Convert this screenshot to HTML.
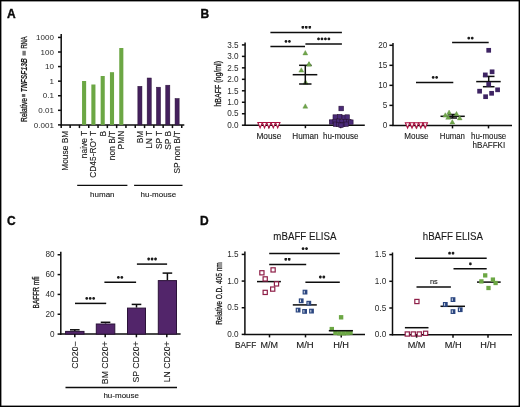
<!DOCTYPE html>
<html><head><meta charset="utf-8"><style>
html,body{margin:0;padding:0;background:#fff;}
svg{display:block;will-change:transform;}
text{font-family:"Liberation Sans",sans-serif;}
</style></head><body>
<svg width="520" height="407" viewBox="0 0 520 407">
<rect width="520" height="407" fill="#fff"/>
<rect x="0.7" y="0.7" width="518.6" height="405.6" fill="none" stroke="#000" stroke-width="1.4"/>
<text x="6.9" y="17.7" font-size="12" font-weight="bold" fill="#0a0a0a" stroke="#0a0a0a" stroke-width="0.35">A</text>
<text x="200.4" y="17.7" font-size="12" font-weight="bold" fill="#0a0a0a" stroke="#0a0a0a" stroke-width="0.35">B</text>
<text x="7.0" y="224.8" font-size="12" font-weight="bold" fill="#0a0a0a" stroke="#0a0a0a" stroke-width="0.35">C</text>
<text x="200.0" y="224.8" font-size="12" font-weight="bold" fill="#0a0a0a" stroke="#0a0a0a" stroke-width="0.35">D</text>
<line x1="61.20" y1="34.00" x2="61.20" y2="125.50" stroke="#0d0d0d" stroke-width="1.5"/>
<line x1="60.60" y1="124.90" x2="184.30" y2="124.90" stroke="#0d0d0d" stroke-width="1.5"/>
<line x1="58.00" y1="124.90" x2="61.20" y2="124.90" stroke="#0d0d0d" stroke-width="1.5"/>
<text x="53.90" y="127.65" font-size="8.0" text-anchor="end" font-weight="normal" fill="#2a2a2a" stroke="#2a2a2a" stroke-width="0"  style="">0.001</text>
<line x1="58.00" y1="110.32" x2="61.20" y2="110.32" stroke="#0d0d0d" stroke-width="1.5"/>
<text x="53.90" y="113.07" font-size="8.0" text-anchor="end" font-weight="normal" fill="#2a2a2a" stroke="#2a2a2a" stroke-width="0"  style="">0.01</text>
<line x1="58.00" y1="95.74" x2="61.20" y2="95.74" stroke="#0d0d0d" stroke-width="1.5"/>
<text x="53.90" y="98.49" font-size="8.0" text-anchor="end" font-weight="normal" fill="#2a2a2a" stroke="#2a2a2a" stroke-width="0"  style="">0.1</text>
<line x1="58.00" y1="81.16" x2="61.20" y2="81.16" stroke="#0d0d0d" stroke-width="1.5"/>
<text x="53.90" y="83.91" font-size="8.0" text-anchor="end" font-weight="normal" fill="#2a2a2a" stroke="#2a2a2a" stroke-width="0"  style="">1</text>
<line x1="58.00" y1="66.58" x2="61.20" y2="66.58" stroke="#0d0d0d" stroke-width="1.5"/>
<text x="53.90" y="69.33" font-size="8.0" text-anchor="end" font-weight="normal" fill="#2a2a2a" stroke="#2a2a2a" stroke-width="0"  style="">10</text>
<line x1="58.00" y1="52.00" x2="61.20" y2="52.00" stroke="#0d0d0d" stroke-width="1.5"/>
<text x="53.90" y="54.75" font-size="8.0" text-anchor="end" font-weight="normal" fill="#2a2a2a" stroke="#2a2a2a" stroke-width="0"  style="">100</text>
<line x1="58.00" y1="37.42" x2="61.20" y2="37.42" stroke="#0d0d0d" stroke-width="1.5"/>
<text x="53.90" y="40.17" font-size="8.0" text-anchor="end" font-weight="normal" fill="#2a2a2a" stroke="#2a2a2a" stroke-width="0"  style="">1000</text>
<line x1="61.20" y1="124.90" x2="61.20" y2="128.10" stroke="#0d0d0d" stroke-width="1.5"/>
<line x1="70.15" y1="124.90" x2="70.15" y2="128.10" stroke="#0d0d0d" stroke-width="1.5"/>
<line x1="79.45" y1="124.90" x2="79.45" y2="128.10" stroke="#0d0d0d" stroke-width="1.5"/>
<line x1="88.75" y1="124.90" x2="88.75" y2="128.10" stroke="#0d0d0d" stroke-width="1.5"/>
<line x1="98.05" y1="124.90" x2="98.05" y2="128.10" stroke="#0d0d0d" stroke-width="1.5"/>
<line x1="107.35" y1="124.90" x2="107.35" y2="128.10" stroke="#0d0d0d" stroke-width="1.5"/>
<line x1="116.65" y1="124.90" x2="116.65" y2="128.10" stroke="#0d0d0d" stroke-width="1.5"/>
<line x1="125.95" y1="124.90" x2="125.95" y2="128.10" stroke="#0d0d0d" stroke-width="1.5"/>
<line x1="135.25" y1="124.90" x2="135.25" y2="128.10" stroke="#0d0d0d" stroke-width="1.5"/>
<line x1="144.55" y1="124.90" x2="144.55" y2="128.10" stroke="#0d0d0d" stroke-width="1.5"/>
<line x1="153.85" y1="124.90" x2="153.85" y2="128.10" stroke="#0d0d0d" stroke-width="1.5"/>
<line x1="163.15" y1="124.90" x2="163.15" y2="128.10" stroke="#0d0d0d" stroke-width="1.5"/>
<line x1="172.45" y1="124.90" x2="172.45" y2="128.10" stroke="#0d0d0d" stroke-width="1.5"/>
<line x1="181.75" y1="124.90" x2="181.75" y2="128.10" stroke="#0d0d0d" stroke-width="1.5"/>
<rect x="82.05" y="81.00" width="4.1" height="43.90" fill="#6ca744"/>
<rect x="91.35" y="84.50" width="4.1" height="40.40" fill="#6ca744"/>
<rect x="100.65" y="76.00" width="4.1" height="48.90" fill="#6ca744"/>
<rect x="109.95" y="72.20" width="4.1" height="52.70" fill="#6ca744"/>
<rect x="119.25" y="48.00" width="4.1" height="76.90" fill="#6ca744"/>
<rect x="137.85" y="86.30" width="4.1" height="38.60" fill="#44205d" stroke="#2a1238" stroke-width="0.5"/>
<rect x="147.15" y="78.00" width="4.1" height="46.90" fill="#44205d" stroke="#2a1238" stroke-width="0.5"/>
<rect x="156.45" y="87.20" width="4.1" height="37.70" fill="#44205d" stroke="#2a1238" stroke-width="0.5"/>
<rect x="165.75" y="85.20" width="4.1" height="39.70" fill="#44205d" stroke="#2a1238" stroke-width="0.5"/>
<rect x="175.05" y="98.50" width="4.1" height="26.40" fill="#44205d" stroke="#2a1238" stroke-width="0.5"/>
<text transform="translate(67.72,130.80) rotate(-90) scale(1.0,1)" font-size="8.4" text-anchor="end" fill="#1a1a1a" stroke="#1a1a1a" stroke-width="0.12">Mouse BM</text>
<text transform="translate(87.12,130.80) rotate(-90) scale(1.0,1)" font-size="8.4" text-anchor="end" fill="#1a1a1a" stroke="#1a1a1a" stroke-width="0.12">naive T</text>
<text transform="translate(96.42,130.80) rotate(-90) scale(1.0,1)" font-size="8.4" text-anchor="end" fill="#1a1a1a" stroke="#1a1a1a" stroke-width="0.12">CD45-RO<tspan font-size="5" dy="-3">+</tspan><tspan dy="3"> T</tspan></text>
<text transform="translate(105.72,130.80) rotate(-90) scale(1.0,1)" font-size="8.4" text-anchor="end" fill="#1a1a1a" stroke="#1a1a1a" stroke-width="0.12">B</text>
<text transform="translate(115.02,130.80) rotate(-90) scale(1.0,1)" font-size="8.4" text-anchor="end" fill="#1a1a1a" stroke="#1a1a1a" stroke-width="0.12">non B/T</text>
<text transform="translate(124.32,130.80) rotate(-90) scale(1.0,1)" font-size="8.4" text-anchor="end" fill="#1a1a1a" stroke="#1a1a1a" stroke-width="0.12">PMN</text>
<text transform="translate(142.92,130.80) rotate(-90) scale(1.0,1)" font-size="8.4" text-anchor="end" fill="#1a1a1a" stroke="#1a1a1a" stroke-width="0.12">BM</text>
<text transform="translate(152.22,130.80) rotate(-90) scale(1.0,1)" font-size="8.4" text-anchor="end" fill="#1a1a1a" stroke="#1a1a1a" stroke-width="0.12">LN T</text>
<text transform="translate(161.52,130.80) rotate(-90) scale(1.0,1)" font-size="8.4" text-anchor="end" fill="#1a1a1a" stroke="#1a1a1a" stroke-width="0.12">SP T</text>
<text transform="translate(170.82,130.80) rotate(-90) scale(1.0,1)" font-size="8.4" text-anchor="end" fill="#1a1a1a" stroke="#1a1a1a" stroke-width="0.12">SP B</text>
<text transform="translate(180.12,130.80) rotate(-90) scale(1.0,1)" font-size="8.4" text-anchor="end" fill="#1a1a1a" stroke="#1a1a1a" stroke-width="0.12">SP non B/T</text>
<line x1="77.20" y1="185.40" x2="127.40" y2="185.40" stroke="#0d0d0d" stroke-width="1.4"/>
<line x1="134.10" y1="185.40" x2="182.50" y2="185.40" stroke="#0d0d0d" stroke-width="1.4"/>
<text x="102.30" y="196.80" font-size="8.0" text-anchor="middle" font-weight="normal" fill="#1a1a1a" stroke="#1a1a1a" stroke-width="0.12"  style="">human</text>
<text x="158.30" y="196.80" font-size="8.0" text-anchor="middle" font-weight="normal" fill="#1a1a1a" stroke="#1a1a1a" stroke-width="0.12"  style="">hu-mouse</text>
<text transform="translate(26.92,121.90) rotate(-90) scale(0.79,1)" font-size="8.4" text-anchor="start" fill="#1a1a1a" stroke="#1a1a1a" stroke-width="0.3" >Relative</text>
<rect x="21.9" y="94.0" width="3.4" height="3.0" fill="#666"/>
<text transform="translate(26.92,92.20) rotate(-90) scale(0.8,1)" font-size="8.4" text-anchor="start" fill="#1a1a1a" stroke="#1a1a1a" stroke-width="0.1" font-style="italic" font-weight="bold">TNFSF13B</text>
<rect x="22.4" y="50.8" width="3.4" height="4.7" fill="#777"/>
<text transform="translate(26.92,48.60) rotate(-90) scale(0.69,1)" font-size="8.4" text-anchor="start" fill="#1a1a1a" stroke="#1a1a1a" stroke-width="0.3" >RNA</text>
<line x1="245.10" y1="42.50" x2="245.10" y2="125.80" stroke="#0d0d0d" stroke-width="1.5"/>
<line x1="244.50" y1="125.20" x2="364.80" y2="125.20" stroke="#0d0d0d" stroke-width="1.5"/>
<line x1="241.90" y1="125.20" x2="245.10" y2="125.20" stroke="#0d0d0d" stroke-width="1.5"/>
<text x="238.60" y="127.95" font-size="8.2" text-anchor="end" font-weight="normal" fill="#2a2a2a" stroke="#2a2a2a" stroke-width="0"  style="">0.0</text>
<line x1="241.90" y1="113.73" x2="245.10" y2="113.73" stroke="#0d0d0d" stroke-width="1.5"/>
<text x="238.60" y="116.48" font-size="8.2" text-anchor="end" font-weight="normal" fill="#2a2a2a" stroke="#2a2a2a" stroke-width="0"  style="">0.5</text>
<line x1="241.90" y1="102.26" x2="245.10" y2="102.26" stroke="#0d0d0d" stroke-width="1.5"/>
<text x="238.60" y="105.01" font-size="8.2" text-anchor="end" font-weight="normal" fill="#2a2a2a" stroke="#2a2a2a" stroke-width="0"  style="">1.0</text>
<line x1="241.90" y1="90.79" x2="245.10" y2="90.79" stroke="#0d0d0d" stroke-width="1.5"/>
<text x="238.60" y="93.54" font-size="8.2" text-anchor="end" font-weight="normal" fill="#2a2a2a" stroke="#2a2a2a" stroke-width="0"  style="">1.5</text>
<line x1="241.90" y1="79.32" x2="245.10" y2="79.32" stroke="#0d0d0d" stroke-width="1.5"/>
<text x="238.60" y="82.07" font-size="8.2" text-anchor="end" font-weight="normal" fill="#2a2a2a" stroke="#2a2a2a" stroke-width="0"  style="">2.0</text>
<line x1="241.90" y1="67.85" x2="245.10" y2="67.85" stroke="#0d0d0d" stroke-width="1.5"/>
<text x="238.60" y="70.60" font-size="8.2" text-anchor="end" font-weight="normal" fill="#2a2a2a" stroke="#2a2a2a" stroke-width="0"  style="">2.5</text>
<line x1="241.90" y1="56.38" x2="245.10" y2="56.38" stroke="#0d0d0d" stroke-width="1.5"/>
<text x="238.60" y="59.13" font-size="8.2" text-anchor="end" font-weight="normal" fill="#2a2a2a" stroke="#2a2a2a" stroke-width="0"  style="">3.0</text>
<line x1="241.90" y1="44.91" x2="245.10" y2="44.91" stroke="#0d0d0d" stroke-width="1.5"/>
<text x="238.60" y="47.66" font-size="8.2" text-anchor="end" font-weight="normal" fill="#2a2a2a" stroke="#2a2a2a" stroke-width="0"  style="">3.5</text>
<line x1="268.80" y1="125.20" x2="268.80" y2="128.20" stroke="#0d0d0d" stroke-width="1.5"/>
<line x1="305.40" y1="125.20" x2="305.40" y2="128.20" stroke="#0d0d0d" stroke-width="1.5"/>
<line x1="340.70" y1="125.20" x2="340.70" y2="128.20" stroke="#0d0d0d" stroke-width="1.5"/>
<text transform="translate(220.84,83.80) rotate(-90) scale(0.78,1)" font-size="9" text-anchor="middle" fill="#1a1a1a" stroke="#1a1a1a" stroke-width="0.3">hBAFF (ng/ml)</text>
<text x="268.90" y="139.00" font-size="8.8" text-anchor="middle" font-weight="normal" fill="#1a1a1a" stroke="#1a1a1a" stroke-width="0.12"  textLength="24.9" lengthAdjust="spacingAndGlyphs" style="">Mouse</text>
<text x="305.40" y="139.00" font-size="8.8" text-anchor="middle" font-weight="normal" fill="#1a1a1a" stroke="#1a1a1a" stroke-width="0.12"  textLength="26.3" lengthAdjust="spacingAndGlyphs" style="">Human</text>
<text x="340.70" y="139.00" font-size="8.8" text-anchor="middle" font-weight="normal" fill="#1a1a1a" stroke="#1a1a1a" stroke-width="0.12"  textLength="35.5" lengthAdjust="spacingAndGlyphs" style="">hu-mouse</text>
<line x1="270.40" y1="32.50" x2="341.90" y2="32.50" stroke="#0d0d0d" stroke-width="1.5"/>
<path d="M302.85,25.90L302.85,28.70M301.64,26.60L304.06,28.00M301.64,28.00L304.06,26.60" stroke="#1a1a1a" stroke-width="1.15" fill="none"/>
<path d="M306.30,25.90L306.30,28.70M305.09,26.60L307.51,28.00M305.09,28.00L307.51,26.60" stroke="#1a1a1a" stroke-width="1.15" fill="none"/>
<path d="M309.75,25.90L309.75,28.70M308.54,26.60L310.96,28.00M308.54,28.00L310.96,26.60" stroke="#1a1a1a" stroke-width="1.15" fill="none"/>
<line x1="270.40" y1="46.50" x2="305.00" y2="46.50" stroke="#0d0d0d" stroke-width="1.5"/>
<path d="M285.97,40.00L285.97,42.80M284.76,40.70L287.19,42.10M284.76,42.10L287.19,40.70" stroke="#1a1a1a" stroke-width="1.15" fill="none"/>
<path d="M289.42,40.00L289.42,42.80M288.21,40.70L290.64,42.10M288.21,42.10L290.64,40.70" stroke="#1a1a1a" stroke-width="1.15" fill="none"/>
<line x1="305.40" y1="44.00" x2="341.90" y2="44.00" stroke="#0d0d0d" stroke-width="1.5"/>
<path d="M318.52,37.50L318.52,40.30M317.31,38.20L319.74,39.60M317.31,39.60L319.74,38.20" stroke="#1a1a1a" stroke-width="1.15" fill="none"/>
<path d="M321.97,37.50L321.97,40.30M320.76,38.20L323.19,39.60M320.76,39.60L323.19,38.20" stroke="#1a1a1a" stroke-width="1.15" fill="none"/>
<path d="M325.42,37.50L325.42,40.30M324.21,38.20L326.64,39.60M324.21,39.60L326.64,38.20" stroke="#1a1a1a" stroke-width="1.15" fill="none"/>
<path d="M328.88,37.50L328.88,40.30M327.66,38.20L330.09,39.60M327.66,39.60L330.09,38.20" stroke="#1a1a1a" stroke-width="1.15" fill="none"/>
<path d="M257.85,122.55 L262.35,122.55 L260.10,127.85 Z" fill="white" stroke="#ac1040" stroke-width="1.1" stroke-linejoin="miter"/>
<path d="M262.25,122.55 L266.75,122.55 L264.50,127.85 Z" fill="white" stroke="#ac1040" stroke-width="1.1" stroke-linejoin="miter"/>
<path d="M266.65,122.55 L271.15,122.55 L268.90,127.85 Z" fill="white" stroke="#ac1040" stroke-width="1.1" stroke-linejoin="miter"/>
<path d="M271.05,122.55 L275.55,122.55 L273.30,127.85 Z" fill="white" stroke="#ac1040" stroke-width="1.1" stroke-linejoin="miter"/>
<path d="M275.45,122.55 L279.95,122.55 L277.70,127.85 Z" fill="white" stroke="#ac1040" stroke-width="1.1" stroke-linejoin="miter"/>
<path d="M302.85,54.90 L307.75,54.90 L305.30,50.50 Z" fill="#70a64a" stroke="#5f8f45" stroke-width="0.4"/>
<path d="M306.55,66.10 L311.45,66.10 L309.00,61.70 Z" fill="#70a64a" stroke="#5f8f45" stroke-width="0.4"/>
<path d="M298.85,72.10 L303.75,72.10 L301.30,67.70 Z" fill="#70a64a" stroke="#5f8f45" stroke-width="0.4"/>
<path d="M303.15,84.20 L308.05,84.20 L305.60,79.80 Z" fill="#70a64a" stroke="#5f8f45" stroke-width="0.4"/>
<path d="M302.85,108.20 L307.75,108.20 L305.30,103.80 Z" fill="#70a64a" stroke="#5f8f45" stroke-width="0.4"/>
<line x1="292.70" y1="74.70" x2="317.30" y2="74.70" stroke="#0d0d0d" stroke-width="1.5"/>
<line x1="305.30" y1="65.30" x2="305.30" y2="84.00" stroke="#0d0d0d" stroke-width="1.5"/>
<line x1="299.10" y1="65.30" x2="311.50" y2="65.30" stroke="#0d0d0d" stroke-width="1.5"/>
<line x1="299.10" y1="84.00" x2="311.50" y2="84.00" stroke="#0d0d0d" stroke-width="1.5"/>
<path d="M306.55,66.10 L311.45,66.10 L309.00,61.70 Z" fill="#70a64a" stroke="#5f8f45" stroke-width="0.4"/>
<rect x="338.90" y="106.20" width="4.6" height="4.6" fill="#4a2a78" stroke="#2a1238" stroke-width="0.6"/>
<line x1="329.50" y1="120.70" x2="352.50" y2="120.70" stroke="#0d0d0d" stroke-width="1.5"/>
<rect x="333.00" y="114.80" width="4.4" height="4.4" fill="#4a2a78" stroke="#2a1238" stroke-width="0.6"/>
<rect x="337.60" y="114.40" width="4.4" height="4.4" fill="#4a2a78" stroke="#2a1238" stroke-width="0.6"/>
<rect x="342.00" y="115.20" width="4.4" height="4.4" fill="#4a2a78" stroke="#2a1238" stroke-width="0.6"/>
<rect x="345.00" y="114.80" width="4.4" height="4.4" fill="#4a2a78" stroke="#2a1238" stroke-width="0.6"/>
<rect x="329.40" y="119.80" width="4.4" height="4.4" fill="#4a2a78" stroke="#2a1238" stroke-width="0.6"/>
<rect x="332.80" y="119.30" width="4.4" height="4.4" fill="#4a2a78" stroke="#2a1238" stroke-width="0.6"/>
<rect x="336.30" y="119.00" width="4.4" height="4.4" fill="#4a2a78" stroke="#2a1238" stroke-width="0.6"/>
<rect x="339.80" y="119.30" width="4.4" height="4.4" fill="#4a2a78" stroke="#2a1238" stroke-width="0.6"/>
<rect x="343.30" y="119.30" width="4.4" height="4.4" fill="#4a2a78" stroke="#2a1238" stroke-width="0.6"/>
<rect x="346.60" y="119.50" width="4.4" height="4.4" fill="#4a2a78" stroke="#2a1238" stroke-width="0.6"/>
<rect x="348.70" y="119.90" width="4.4" height="4.4" fill="#4a2a78" stroke="#2a1238" stroke-width="0.6"/>
<rect x="333.30" y="122.00" width="4.4" height="4.4" fill="#4a2a78" stroke="#2a1238" stroke-width="0.6"/>
<rect x="336.60" y="122.30" width="4.4" height="4.4" fill="#4a2a78" stroke="#2a1238" stroke-width="0.6"/>
<rect x="340.60" y="122.30" width="4.4" height="4.4" fill="#4a2a78" stroke="#2a1238" stroke-width="0.6"/>
<rect x="344.10" y="122.00" width="4.4" height="4.4" fill="#4a2a78" stroke="#2a1238" stroke-width="0.6"/>
<rect x="338.80" y="123.00" width="4.4" height="4.4" fill="#4a2a78" stroke="#2a1238" stroke-width="0.6"/>
<line x1="393.00" y1="42.90" x2="393.00" y2="126.00" stroke="#0d0d0d" stroke-width="1.5"/>
<line x1="392.40" y1="125.40" x2="512.00" y2="125.40" stroke="#0d0d0d" stroke-width="1.5"/>
<line x1="389.40" y1="125.40" x2="393.00" y2="125.40" stroke="#0d0d0d" stroke-width="1.5"/>
<text x="387.40" y="128.15" font-size="8.2" text-anchor="end" font-weight="normal" fill="#2a2a2a" stroke="#2a2a2a" stroke-width="0"  style="">0</text>
<line x1="389.40" y1="105.38" x2="393.00" y2="105.38" stroke="#0d0d0d" stroke-width="1.5"/>
<text x="387.40" y="108.12" font-size="8.2" text-anchor="end" font-weight="normal" fill="#2a2a2a" stroke="#2a2a2a" stroke-width="0"  style="">5</text>
<line x1="389.40" y1="85.35" x2="393.00" y2="85.35" stroke="#0d0d0d" stroke-width="1.5"/>
<text x="387.40" y="88.10" font-size="8.2" text-anchor="end" font-weight="normal" fill="#2a2a2a" stroke="#2a2a2a" stroke-width="0"  style="">10</text>
<line x1="389.40" y1="65.33" x2="393.00" y2="65.33" stroke="#0d0d0d" stroke-width="1.5"/>
<text x="387.40" y="68.08" font-size="8.2" text-anchor="end" font-weight="normal" fill="#2a2a2a" stroke="#2a2a2a" stroke-width="0"  style="">15</text>
<line x1="389.40" y1="45.30" x2="393.00" y2="45.30" stroke="#0d0d0d" stroke-width="1.5"/>
<text x="387.40" y="48.05" font-size="8.2" text-anchor="end" font-weight="normal" fill="#2a2a2a" stroke="#2a2a2a" stroke-width="0"  style="">20</text>
<line x1="416.50" y1="125.40" x2="416.50" y2="128.40" stroke="#0d0d0d" stroke-width="1.5"/>
<line x1="452.50" y1="125.40" x2="452.50" y2="128.40" stroke="#0d0d0d" stroke-width="1.5"/>
<line x1="488.50" y1="125.40" x2="488.50" y2="128.40" stroke="#0d0d0d" stroke-width="1.5"/>
<text x="416.40" y="139.00" font-size="8.8" text-anchor="middle" font-weight="normal" fill="#1a1a1a" stroke="#1a1a1a" stroke-width="0.12"  textLength="24.3" lengthAdjust="spacingAndGlyphs" style="">Mouse</text>
<text x="452.35" y="139.00" font-size="8.8" text-anchor="middle" font-weight="normal" fill="#1a1a1a" stroke="#1a1a1a" stroke-width="0.12"  textLength="25.2" lengthAdjust="spacingAndGlyphs" style="">Human</text>
<text x="488.65" y="139.00" font-size="8.8" text-anchor="middle" font-weight="normal" fill="#1a1a1a" stroke="#1a1a1a" stroke-width="0.12"  textLength="35.2" lengthAdjust="spacingAndGlyphs" style="">hu-mouse</text>
<text x="488.85" y="148.30" font-size="8.8" text-anchor="middle" font-weight="normal" fill="#1a1a1a" stroke="#1a1a1a" stroke-width="0.12"  textLength="32.6" lengthAdjust="spacingAndGlyphs" style="">hBAFFKI</text>
<line x1="416.00" y1="82.40" x2="453.30" y2="82.40" stroke="#0d0d0d" stroke-width="1.5"/>
<path d="M433.17,76.00L433.17,78.80M431.96,76.70L434.39,78.10M431.96,78.10L434.39,76.70" stroke="#1a1a1a" stroke-width="1.15" fill="none"/>
<path d="M436.62,76.00L436.62,78.80M435.41,76.70L437.84,78.10M435.41,78.10L437.84,76.70" stroke="#1a1a1a" stroke-width="1.15" fill="none"/>
<line x1="452.10" y1="42.40" x2="488.70" y2="42.40" stroke="#0d0d0d" stroke-width="1.5"/>
<path d="M468.77,36.70L468.77,39.50M467.56,37.40L469.99,38.80M467.56,38.80L469.99,37.40" stroke="#1a1a1a" stroke-width="1.15" fill="none"/>
<path d="M472.22,36.70L472.22,39.50M471.01,37.40L473.44,38.80M471.01,38.80L473.44,37.40" stroke="#1a1a1a" stroke-width="1.15" fill="none"/>
<path d="M405.35,122.75 L409.85,122.75 L407.60,128.05 Z" fill="white" stroke="#ac1040" stroke-width="1.1" stroke-linejoin="miter"/>
<path d="M409.75,122.75 L414.25,122.75 L412.00,128.05 Z" fill="white" stroke="#ac1040" stroke-width="1.1" stroke-linejoin="miter"/>
<path d="M414.15,122.75 L418.65,122.75 L416.40,128.05 Z" fill="white" stroke="#ac1040" stroke-width="1.1" stroke-linejoin="miter"/>
<path d="M418.55,122.75 L423.05,122.75 L420.80,128.05 Z" fill="white" stroke="#ac1040" stroke-width="1.1" stroke-linejoin="miter"/>
<path d="M422.95,122.75 L427.45,122.75 L425.20,128.05 Z" fill="white" stroke="#ac1040" stroke-width="1.1" stroke-linejoin="miter"/>
<line x1="440.50" y1="116.30" x2="464.80" y2="116.30" stroke="#0d0d0d" stroke-width="1.5"/>
<line x1="452.60" y1="114.50" x2="452.60" y2="118.00" stroke="#0d0d0d" stroke-width="1.5"/>
<line x1="448.10" y1="114.50" x2="457.10" y2="114.50" stroke="#0d0d0d" stroke-width="1.5"/>
<line x1="448.10" y1="118.00" x2="457.10" y2="118.00" stroke="#0d0d0d" stroke-width="1.5"/>
<path d="M446.65,114.40 L451.55,114.40 L449.10,110.00 Z" fill="#70a64a" stroke="#5f8f45" stroke-width="0.4"/>
<path d="M442.85,117.10 L447.75,117.10 L445.30,112.70 Z" fill="#70a64a" stroke="#5f8f45" stroke-width="0.4"/>
<path d="M454.05,115.80 L458.95,115.80 L456.50,111.40 Z" fill="#70a64a" stroke="#5f8f45" stroke-width="0.4"/>
<path d="M457.25,119.90 L462.15,119.90 L459.70,115.50 Z" fill="#70a64a" stroke="#5f8f45" stroke-width="0.4"/>
<path d="M449.85,124.00 L454.75,124.00 L452.30,119.60 Z" fill="#70a64a" stroke="#5f8f45" stroke-width="0.4"/>
<path d="M445.75,119.30 L450.65,119.30 L448.20,114.90 Z" fill="#70a64a" stroke="#5f8f45" stroke-width="0.4"/>
<line x1="476.20" y1="81.60" x2="500.70" y2="81.60" stroke="#0d0d0d" stroke-width="1.5"/>
<line x1="488.70" y1="76.40" x2="488.70" y2="86.70" stroke="#0d0d0d" stroke-width="1.5"/>
<line x1="482.90" y1="76.40" x2="494.50" y2="76.40" stroke="#0d0d0d" stroke-width="1.5"/>
<line x1="482.90" y1="86.70" x2="494.50" y2="86.70" stroke="#0d0d0d" stroke-width="1.5"/>
<rect x="486.35" y="47.95" width="4.7" height="4.7" fill="#3e2463"/>
<rect x="482.95" y="72.55" width="4.7" height="4.7" fill="#3e2463"/>
<rect x="489.75" y="69.45" width="4.7" height="4.7" fill="#3e2463"/>
<rect x="486.35" y="81.95" width="4.7" height="4.7" fill="#3e2463"/>
<rect x="477.25" y="88.85" width="4.7" height="4.7" fill="#3e2463"/>
<rect x="495.25" y="87.45" width="4.7" height="4.7" fill="#3e2463"/>
<rect x="489.25" y="90.95" width="4.7" height="4.7" fill="#3e2463"/>
<rect x="483.25" y="94.35" width="4.7" height="4.7" fill="#3e2463"/>
<line x1="60.80" y1="251.80" x2="60.80" y2="334.70" stroke="#0d0d0d" stroke-width="1.5"/>
<line x1="60.20" y1="334.10" x2="180.60" y2="334.10" stroke="#0d0d0d" stroke-width="1.5"/>
<line x1="57.60" y1="334.10" x2="60.80" y2="334.10" stroke="#0d0d0d" stroke-width="1.5"/>
<text x="54.60" y="336.85" font-size="8.2" text-anchor="end" font-weight="normal" fill="#2a2a2a" stroke="#2a2a2a" stroke-width="0"  style="">0</text>
<line x1="57.60" y1="314.26" x2="60.80" y2="314.26" stroke="#0d0d0d" stroke-width="1.5"/>
<text x="54.60" y="317.01" font-size="8.2" text-anchor="end" font-weight="normal" fill="#2a2a2a" stroke="#2a2a2a" stroke-width="0"  style="">20</text>
<line x1="57.60" y1="294.42" x2="60.80" y2="294.42" stroke="#0d0d0d" stroke-width="1.5"/>
<text x="54.60" y="297.17" font-size="8.2" text-anchor="end" font-weight="normal" fill="#2a2a2a" stroke="#2a2a2a" stroke-width="0"  style="">40</text>
<line x1="57.60" y1="274.58" x2="60.80" y2="274.58" stroke="#0d0d0d" stroke-width="1.5"/>
<text x="54.60" y="277.33" font-size="8.2" text-anchor="end" font-weight="normal" fill="#2a2a2a" stroke="#2a2a2a" stroke-width="0"  style="">60</text>
<line x1="57.60" y1="254.74" x2="60.80" y2="254.74" stroke="#0d0d0d" stroke-width="1.5"/>
<text x="54.60" y="257.49" font-size="8.2" text-anchor="end" font-weight="normal" fill="#2a2a2a" stroke="#2a2a2a" stroke-width="0"  style="">80</text>
<text transform="translate(38.87,292.50) rotate(-90) scale(0.78,1)" font-size="8.4" text-anchor="middle" fill="#1a1a1a" stroke="#1a1a1a" stroke-width="0.3">BAFFR mfi</text>
<line x1="74.80" y1="330.90" x2="74.80" y2="329.80" stroke="#0d0d0d" stroke-width="1.5"/>
<line x1="70.00" y1="329.80" x2="79.60" y2="329.80" stroke="#0d0d0d" stroke-width="1.5"/>
<rect x="65.60" y="331.40" width="18.40" height="2.70" fill="#52256a" stroke="#2a1238" stroke-width="1"/>
<line x1="105.55" y1="323.50" x2="105.55" y2="322.30" stroke="#0d0d0d" stroke-width="1.5"/>
<line x1="100.75" y1="322.30" x2="110.35" y2="322.30" stroke="#0d0d0d" stroke-width="1.5"/>
<rect x="96.30" y="324.00" width="18.50" height="10.10" fill="#52256a" stroke="#2a1238" stroke-width="1"/>
<line x1="136.50" y1="307.60" x2="136.50" y2="304.40" stroke="#0d0d0d" stroke-width="1.5"/>
<line x1="131.70" y1="304.40" x2="141.30" y2="304.40" stroke="#0d0d0d" stroke-width="1.5"/>
<rect x="127.50" y="308.10" width="18.00" height="26.00" fill="#52256a" stroke="#2a1238" stroke-width="1"/>
<line x1="167.40" y1="280.10" x2="167.40" y2="273.10" stroke="#0d0d0d" stroke-width="1.5"/>
<line x1="162.60" y1="273.10" x2="172.20" y2="273.10" stroke="#0d0d0d" stroke-width="1.5"/>
<rect x="158.30" y="280.60" width="18.20" height="53.50" fill="#52256a" stroke="#2a1238" stroke-width="1"/>
<line x1="74.80" y1="334.10" x2="74.80" y2="337.30" stroke="#0d0d0d" stroke-width="1.5"/>
<line x1="105.20" y1="334.10" x2="105.20" y2="337.30" stroke="#0d0d0d" stroke-width="1.5"/>
<line x1="136.40" y1="334.10" x2="136.40" y2="337.30" stroke="#0d0d0d" stroke-width="1.5"/>
<line x1="166.80" y1="334.10" x2="166.80" y2="337.30" stroke="#0d0d0d" stroke-width="1.5"/>
<line x1="75.00" y1="303.40" x2="106.20" y2="303.40" stroke="#0d0d0d" stroke-width="1.5"/>
<path d="M86.75,297.00L86.75,299.80M85.54,297.70L87.96,299.10M85.54,299.10L87.96,297.70" stroke="#1a1a1a" stroke-width="1.15" fill="none"/>
<path d="M90.20,297.00L90.20,299.80M88.99,297.70L91.41,299.10M88.99,299.10L91.41,297.70" stroke="#1a1a1a" stroke-width="1.15" fill="none"/>
<path d="M93.65,297.00L93.65,299.80M92.44,297.70L94.86,299.10M92.44,299.10L94.86,297.70" stroke="#1a1a1a" stroke-width="1.15" fill="none"/>
<line x1="104.40" y1="282.30" x2="136.10" y2="282.30" stroke="#0d0d0d" stroke-width="1.5"/>
<path d="M118.38,276.00L118.38,278.80M117.16,276.70L119.59,278.10M117.16,278.10L119.59,276.70" stroke="#1a1a1a" stroke-width="1.15" fill="none"/>
<path d="M121.83,276.00L121.83,278.80M120.61,276.70L123.04,278.10M120.61,278.10L123.04,276.70" stroke="#1a1a1a" stroke-width="1.15" fill="none"/>
<line x1="136.90" y1="264.10" x2="167.10" y2="264.10" stroke="#0d0d0d" stroke-width="1.5"/>
<path d="M148.65,257.60L148.65,260.40M147.44,258.30L149.86,259.70M147.44,259.70L149.86,258.30" stroke="#1a1a1a" stroke-width="1.15" fill="none"/>
<path d="M152.10,257.60L152.10,260.40M150.89,258.30L153.31,259.70M150.89,259.70L153.31,258.30" stroke="#1a1a1a" stroke-width="1.15" fill="none"/>
<path d="M155.55,257.60L155.55,260.40M154.34,258.30L156.76,259.70M154.34,259.70L156.76,258.30" stroke="#1a1a1a" stroke-width="1.15" fill="none"/>
<text transform="translate(77.63,341.40) rotate(-90) scale(1.0,1)" font-size="8.7" text-anchor="end" fill="#1a1a1a" stroke="#1a1a1a" stroke-width="0.12">CD20−</text>
<text transform="translate(108.23,341.40) rotate(-90) scale(1.0,1)" font-size="8.7" text-anchor="end" fill="#1a1a1a" stroke="#1a1a1a" stroke-width="0.12">BM CD20+</text>
<text transform="translate(139.13,341.40) rotate(-90) scale(1.0,1)" font-size="8.7" text-anchor="end" fill="#1a1a1a" stroke="#1a1a1a" stroke-width="0.12">SP CD20+</text>
<text transform="translate(170.13,341.40) rotate(-90) scale(1.0,1)" font-size="8.7" text-anchor="end" fill="#1a1a1a" stroke="#1a1a1a" stroke-width="0.12">LN CD20+</text>
<line x1="65.50" y1="387.50" x2="177.00" y2="387.50" stroke="#0d0d0d" stroke-width="1.4"/>
<text x="121.20" y="398.20" font-size="8.0" text-anchor="middle" font-weight="normal" fill="#1a1a1a" stroke="#1a1a1a" stroke-width="0.12"  style="">hu-mouse</text>
<line x1="244.90" y1="251.60" x2="244.90" y2="335.00" stroke="#0d0d0d" stroke-width="1.5"/>
<line x1="244.30" y1="334.40" x2="365.00" y2="334.40" stroke="#0d0d0d" stroke-width="1.5"/>
<line x1="241.70" y1="334.40" x2="244.90" y2="334.40" stroke="#0d0d0d" stroke-width="1.5"/>
<text x="238.60" y="337.15" font-size="8.2" text-anchor="end" font-weight="normal" fill="#2a2a2a" stroke="#2a2a2a" stroke-width="0"  style="">0.0</text>
<line x1="241.70" y1="307.73" x2="244.90" y2="307.73" stroke="#0d0d0d" stroke-width="1.5"/>
<text x="238.60" y="310.48" font-size="8.2" text-anchor="end" font-weight="normal" fill="#2a2a2a" stroke="#2a2a2a" stroke-width="0"  style="">0.5</text>
<line x1="241.70" y1="281.07" x2="244.90" y2="281.07" stroke="#0d0d0d" stroke-width="1.5"/>
<text x="238.60" y="283.82" font-size="8.2" text-anchor="end" font-weight="normal" fill="#2a2a2a" stroke="#2a2a2a" stroke-width="0"  style="">1.0</text>
<line x1="241.70" y1="254.40" x2="244.90" y2="254.40" stroke="#0d0d0d" stroke-width="1.5"/>
<text x="238.60" y="257.15" font-size="8.2" text-anchor="end" font-weight="normal" fill="#2a2a2a" stroke="#2a2a2a" stroke-width="0"  style="">1.5</text>
<line x1="269.50" y1="334.40" x2="269.50" y2="337.40" stroke="#0d0d0d" stroke-width="1.5"/>
<line x1="305.50" y1="334.40" x2="305.50" y2="337.40" stroke="#0d0d0d" stroke-width="1.5"/>
<line x1="341.25" y1="334.40" x2="341.25" y2="337.40" stroke="#0d0d0d" stroke-width="1.5"/>
<text transform="translate(221.77,293.50) rotate(-90) scale(0.745,1)" font-size="8.8" text-anchor="middle" fill="#1a1a1a" stroke="#1a1a1a" stroke-width="0.3">Relative O.D. 405 nm</text>
<text x="304.95" y="240.10" font-size="10" text-anchor="middle" font-weight="normal" fill="#1a1a1a" stroke="#1a1a1a" stroke-width="0.12"  textLength="63.2" lengthAdjust="spacingAndGlyphs" style="">mBAFF ELISA</text>
<text x="245.65" y="348.40" font-size="8.8" text-anchor="middle" font-weight="normal" fill="#1a1a1a" stroke="#1a1a1a" stroke-width="0.12"  textLength="21.2" lengthAdjust="spacingAndGlyphs" style="">BAFF</text>
<text x="269.20" y="348.40" font-size="8.8" text-anchor="middle" font-weight="normal" fill="#1a1a1a" stroke="#1a1a1a" stroke-width="0.12"  textLength="17.5" lengthAdjust="spacingAndGlyphs" style="">M/M</text>
<text x="305.00" y="348.40" font-size="8.8" text-anchor="middle" font-weight="normal" fill="#1a1a1a" stroke="#1a1a1a" stroke-width="0.12"  textLength="17.5" lengthAdjust="spacingAndGlyphs" style="">M/H</text>
<text x="341.10" y="348.40" font-size="8.8" text-anchor="middle" font-weight="normal" fill="#1a1a1a" stroke="#1a1a1a" stroke-width="0.12"  textLength="15.9" lengthAdjust="spacingAndGlyphs" style="">H/H</text>
<line x1="269.20" y1="253.50" x2="339.80" y2="253.50" stroke="#0d0d0d" stroke-width="1.5"/>
<path d="M303.07,247.20L303.07,250.00M301.86,247.90L304.29,249.30M301.86,249.30L304.29,247.90" stroke="#1a1a1a" stroke-width="1.15" fill="none"/>
<path d="M306.52,247.20L306.52,250.00M305.31,247.90L307.74,249.30M305.31,249.30L307.74,247.90" stroke="#1a1a1a" stroke-width="1.15" fill="none"/>
<line x1="269.20" y1="264.40" x2="306.20" y2="264.40" stroke="#0d0d0d" stroke-width="1.5"/>
<path d="M285.77,257.90L285.77,260.70M284.56,258.60L286.99,260.00M284.56,260.00L286.99,258.60" stroke="#1a1a1a" stroke-width="1.15" fill="none"/>
<path d="M289.22,257.90L289.22,260.70M288.01,258.60L290.44,260.00M288.01,260.00L290.44,258.60" stroke="#1a1a1a" stroke-width="1.15" fill="none"/>
<line x1="305.40" y1="282.30" x2="339.80" y2="282.30" stroke="#0d0d0d" stroke-width="1.5"/>
<path d="M320.38,275.60L320.38,278.40M319.16,276.30L321.59,277.70M319.16,277.70L321.59,276.30" stroke="#1a1a1a" stroke-width="1.15" fill="none"/>
<path d="M323.82,275.60L323.82,278.40M322.61,276.30L325.04,277.70M322.61,277.70L325.04,276.30" stroke="#1a1a1a" stroke-width="1.15" fill="none"/>
<line x1="257.00" y1="281.60" x2="280.90" y2="281.60" stroke="#0d0d0d" stroke-width="1.5"/>
<rect x="271.00" y="267.80" width="4.20" height="4.20" fill="white" stroke="#8e1f48" stroke-width="1.2"/>
<rect x="259.80" y="270.70" width="4.20" height="4.20" fill="white" stroke="#8e1f48" stroke-width="1.2"/>
<rect x="263.10" y="276.80" width="4.20" height="4.20" fill="white" stroke="#8e1f48" stroke-width="1.2"/>
<rect x="274.40" y="281.80" width="4.20" height="4.20" fill="white" stroke="#8e1f48" stroke-width="1.2"/>
<rect x="270.60" y="287.00" width="4.20" height="4.20" fill="white" stroke="#8e1f48" stroke-width="1.2"/>
<rect x="263.10" y="290.30" width="4.20" height="4.20" fill="white" stroke="#8e1f48" stroke-width="1.2"/>
<line x1="292.80" y1="304.90" x2="316.80" y2="304.90" stroke="#0d0d0d" stroke-width="1.5"/>
<rect x="302.60" y="289.70" width="4.8" height="4.8" fill="#2b4680"/>
<rect x="303.80" y="290.80" width="1.0" height="2.60" fill="#d8e0ec"/>
<rect x="298.80" y="298.40" width="4.8" height="4.8" fill="#2b4680"/>
<rect x="300.00" y="299.50" width="1.0" height="2.60" fill="#d8e0ec"/>
<rect x="306.40" y="300.80" width="4.8" height="4.8" fill="#2b4680"/>
<rect x="307.60" y="301.90" width="1.0" height="2.60" fill="#d8e0ec"/>
<rect x="295.70" y="307.70" width="4.8" height="4.8" fill="#2b4680"/>
<rect x="296.90" y="308.80" width="1.0" height="2.60" fill="#d8e0ec"/>
<rect x="302.20" y="309.00" width="4.8" height="4.8" fill="#2b4680"/>
<rect x="303.40" y="310.10" width="1.0" height="2.60" fill="#d8e0ec"/>
<rect x="309.10" y="308.70" width="4.8" height="4.8" fill="#2b4680"/>
<rect x="310.30" y="309.80" width="1.0" height="2.60" fill="#d8e0ec"/>
<rect x="338.90" y="315.10" width="4.4" height="4.4" fill="#6ca744"/>
<rect x="329.60" y="326.90" width="4.4" height="4.4" fill="#6ca744"/>
<rect x="333.30" y="330.60" width="4.4" height="4.4" fill="#6ca744"/>
<rect x="337.30" y="331.10" width="4.4" height="4.4" fill="#6ca744"/>
<rect x="341.30" y="331.10" width="4.4" height="4.4" fill="#6ca744"/>
<rect x="345.30" y="330.80" width="4.4" height="4.4" fill="#6ca744"/>
<rect x="348.30" y="330.40" width="4.4" height="4.4" fill="#6ca744"/>
<line x1="328.80" y1="330.70" x2="352.90" y2="330.70" stroke="#0d0d0d" stroke-width="1.5"/>
<line x1="392.50" y1="252.50" x2="392.50" y2="335.30" stroke="#0d0d0d" stroke-width="1.5"/>
<line x1="391.90" y1="334.70" x2="512.00" y2="334.70" stroke="#0d0d0d" stroke-width="1.5"/>
<line x1="389.30" y1="334.70" x2="392.50" y2="334.70" stroke="#0d0d0d" stroke-width="1.5"/>
<text x="386.20" y="337.45" font-size="8.2" text-anchor="end" font-weight="normal" fill="#2a2a2a" stroke="#2a2a2a" stroke-width="0"  style="">0.0</text>
<line x1="389.30" y1="308.00" x2="392.50" y2="308.00" stroke="#0d0d0d" stroke-width="1.5"/>
<text x="386.20" y="310.75" font-size="8.2" text-anchor="end" font-weight="normal" fill="#2a2a2a" stroke="#2a2a2a" stroke-width="0"  style="">0.5</text>
<line x1="389.30" y1="281.30" x2="392.50" y2="281.30" stroke="#0d0d0d" stroke-width="1.5"/>
<text x="386.20" y="284.05" font-size="8.2" text-anchor="end" font-weight="normal" fill="#2a2a2a" stroke="#2a2a2a" stroke-width="0"  style="">1.0</text>
<line x1="389.30" y1="254.60" x2="392.50" y2="254.60" stroke="#0d0d0d" stroke-width="1.5"/>
<text x="386.20" y="257.35" font-size="8.2" text-anchor="end" font-weight="normal" fill="#2a2a2a" stroke="#2a2a2a" stroke-width="0"  style="">1.5</text>
<line x1="416.60" y1="334.70" x2="416.60" y2="337.70" stroke="#0d0d0d" stroke-width="1.5"/>
<line x1="453.00" y1="334.70" x2="453.00" y2="337.70" stroke="#0d0d0d" stroke-width="1.5"/>
<line x1="488.00" y1="334.70" x2="488.00" y2="337.70" stroke="#0d0d0d" stroke-width="1.5"/>
<text x="452.85" y="240.10" font-size="10" text-anchor="middle" font-weight="normal" fill="#1a1a1a" stroke="#1a1a1a" stroke-width="0.12"  textLength="60.2" lengthAdjust="spacingAndGlyphs" style="">hBAFF ELISA</text>
<text x="416.55" y="348.40" font-size="8.8" text-anchor="middle" font-weight="normal" fill="#1a1a1a" stroke="#1a1a1a" stroke-width="0.12"  textLength="17.8" lengthAdjust="spacingAndGlyphs" style="">M/M</text>
<text x="453.20" y="348.40" font-size="8.8" text-anchor="middle" font-weight="normal" fill="#1a1a1a" stroke="#1a1a1a" stroke-width="0.12"  textLength="16.9" lengthAdjust="spacingAndGlyphs" style="">M/H</text>
<text x="488.20" y="348.40" font-size="8.8" text-anchor="middle" font-weight="normal" fill="#1a1a1a" stroke="#1a1a1a" stroke-width="0.12"  textLength="15.7" lengthAdjust="spacingAndGlyphs" style="">H/H</text>
<line x1="415.00" y1="258.20" x2="486.70" y2="258.20" stroke="#0d0d0d" stroke-width="1.5"/>
<path d="M449.57,251.80L449.57,254.60M448.36,252.50L450.79,253.90M448.36,253.90L450.79,252.50" stroke="#1a1a1a" stroke-width="1.15" fill="none"/>
<path d="M453.02,251.80L453.02,254.60M451.81,252.50L454.24,253.90M451.81,253.90L454.24,252.50" stroke="#1a1a1a" stroke-width="1.15" fill="none"/>
<line x1="453.50" y1="268.80" x2="486.70" y2="268.80" stroke="#0d0d0d" stroke-width="1.5"/>
<path d="M470.40,262.40L470.40,265.20M469.19,263.10L471.61,264.50M469.19,264.50L471.61,263.10" stroke="#1a1a1a" stroke-width="1.15" fill="none"/>
<line x1="416.50" y1="286.90" x2="450.90" y2="286.90" stroke="#0d0d0d" stroke-width="1.5"/>
<text x="433.80" y="284.20" font-size="7.4" text-anchor="middle" font-weight="normal" fill="#1a1a1a" stroke="#1a1a1a" stroke-width="0.12"  style="">ns</text>
<line x1="404.90" y1="327.70" x2="428.50" y2="327.70" stroke="#0d0d0d" stroke-width="1.5"/>
<rect x="414.80" y="299.40" width="4.20" height="4.20" fill="white" stroke="#8e1f48" stroke-width="1.2"/>
<rect x="405.20" y="331.90" width="4.20" height="4.20" fill="white" stroke="#8e1f48" stroke-width="1.2"/>
<rect x="411.20" y="331.90" width="4.20" height="4.20" fill="white" stroke="#8e1f48" stroke-width="1.2"/>
<rect x="417.20" y="331.90" width="4.20" height="4.20" fill="white" stroke="#8e1f48" stroke-width="1.2"/>
<rect x="423.50" y="331.20" width="4.20" height="4.20" fill="white" stroke="#8e1f48" stroke-width="1.2"/>
<line x1="440.50" y1="306.30" x2="465.00" y2="306.30" stroke="#0d0d0d" stroke-width="1.5"/>
<rect x="450.60" y="297.20" width="4.8" height="4.8" fill="#2b4680"/>
<rect x="451.80" y="298.30" width="1.0" height="2.60" fill="#d8e0ec"/>
<rect x="442.90" y="302.00" width="4.8" height="4.8" fill="#2b4680"/>
<rect x="444.10" y="303.10" width="1.0" height="2.60" fill="#d8e0ec"/>
<rect x="450.60" y="309.20" width="4.8" height="4.8" fill="#2b4680"/>
<rect x="451.80" y="310.30" width="1.0" height="2.60" fill="#d8e0ec"/>
<rect x="457.80" y="307.30" width="4.8" height="4.8" fill="#2b4680"/>
<rect x="459.00" y="308.40" width="1.0" height="2.60" fill="#d8e0ec"/>
<line x1="477.00" y1="282.10" x2="500.70" y2="282.10" stroke="#0d0d0d" stroke-width="1.5"/>
<rect x="483.05" y="273.25" width="4.3" height="4.3" fill="#6ca744"/>
<rect x="479.25" y="279.25" width="4.3" height="4.3" fill="#6ca744"/>
<rect x="490.75" y="277.45" width="4.3" height="4.3" fill="#6ca744"/>
<rect x="493.45" y="280.85" width="4.3" height="4.3" fill="#6ca744"/>
<rect x="486.35" y="285.85" width="4.3" height="4.3" fill="#6ca744"/>
</svg>
</body></html>
